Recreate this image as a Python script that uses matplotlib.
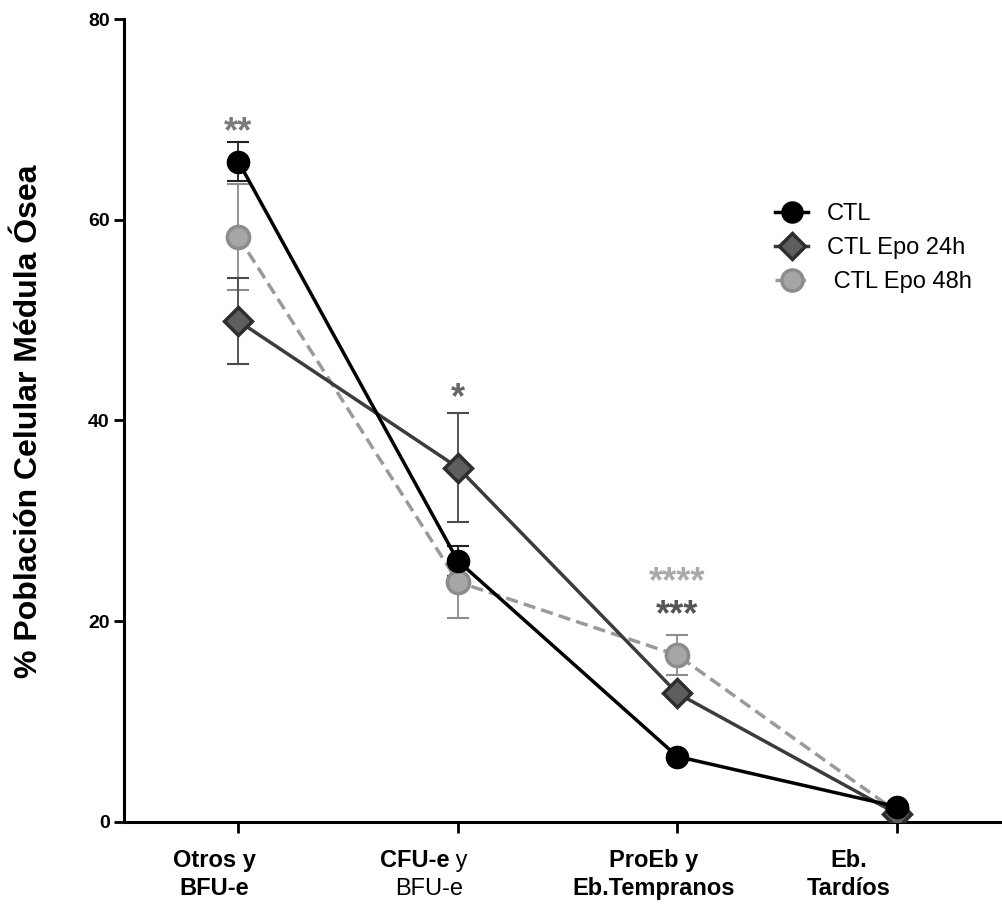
import numpy as np
import matplotlib.pyplot as plt
from matplotlib.transforms import blended_transform_factory

plt.rcParams['font.family'] = ['Liberation Sans', 'DejaVu Sans']

categorias = ['Otros y\nBFU-e', 'CFU-e y\nBFU-e', 'ProEb y\nEb.Tempranos', 'Eb.\nTardíos']
ctl = [65.8, 26.0, 6.5, 1.5]
ctl_err = [1.9, 1.5, 0.0, 0.0]
epo24 = [49.9, 35.3, 12.8, 0.8]
epo24_err = [4.3, 5.4, 0.0, 0.0]
epo48 = [58.3, 23.9, 16.6, 1.0]
epo48_err = [5.3, 3.6, 2.0, 0.0]

x = np.arange(len(categorias))

fig = plt.figure(figsize=(10.02, 9.07), dpi=100)
ax = fig.add_axes([0.124, 0.094, 0.874, 0.885])


def barras(vals, errs, color, z):
    vals = np.asarray(vals)
    errs = np.asarray(errs)
    m = errs > 0
    ax.errorbar(x[m], vals[m], yerr=errs[m], fmt='none', ecolor=color,
                elinewidth=1.3, capsize=8, capthick=1.5, zorder=z)


barras(epo48, epo48_err, '#8c8c8c', 2)
barras(epo24, epo24_err, '#4a4a4a', 2)
barras(ctl, ctl_err, '#222222', 2)

l48, = ax.plot(x, epo48, color='#9a9a9a', ls=(0, (3.5, 1.8)), lw=2.5,
               marker='o', ms=16, mfc='#a6a6a6', mec='#8c8c8c', mew=2.5,
               label=' CTL Epo 48h', zorder=3)
l24, = ax.plot(x, epo24, color='#3c3c3c', lw=2.5,
               marker='D', ms=14, mfc='#5e5e5e', mec='#2e2e2e', mew=2.5,
               label='CTL Epo 24h', zorder=4)
lctl, = ax.plot(x, ctl, color='black', lw=2.5,
                marker='o', ms=16, mfc='black', mec='black',
                label='CTL', zorder=5)

# significance marks
ax.text(0, 66.9, '**', ha='center', va='bottom', fontsize=26, color='#7a7a7a', fontweight='bold')
ax.text(1, 40.4, '*', ha='center', va='bottom', fontsize=26, color='#666666', fontweight='bold')
ax.text(2, 22.1, '****', ha='center', va='bottom', fontsize=26, color='#aaaaaa', fontweight='bold')
ax.text(2, 18.8, '***', ha='center', va='bottom', fontsize=26, color='#555555', fontweight='bold')

ax.set_xlim(-0.52, 3.47)
ax.set_ylim(0, 80)
ax.set_yticks([0, 20, 40, 60, 80])
ax.set_xticks(x)
ax.set_xticklabels([])
for lab in ax.get_yticklabels():
    lab.set_fontweight('bold')
ax.tick_params(axis='y', labelsize=14, width=2, length=7)
ax.tick_params(axis='x', width=2, length=8)

ax.spines['top'].set_visible(False)
ax.spines['right'].set_visible(False)
ax.spines['left'].set_linewidth(2.2)
ax.spines['bottom'].set_linewidth(2.2)

fig.text(29 / 1002, 0.536, '% Población Celular Médula Ósea', rotation=90,
         ha='center', va='center', fontsize=23, fontweight='bold')

# category labels with mixed weights
tr = blended_transform_factory(ax.transData, ax.transAxes)
y1, y2 = -0.056, -0.091
fs = 17
ax.text(-0.11, y1, 'Otros y', transform=tr, ha='center', va='baseline', fontsize=fs, fontweight='bold')
ax.text(-0.11, y2, 'BFU-e', transform=tr, ha='center', va='baseline', fontsize=fs, fontweight='bold')
ax.text(0.96, y1, 'CFU-e', transform=tr, ha='right', va='baseline', fontsize=fs, fontweight='bold')
ax.text(0.96, y1, ' y', transform=tr, ha='left', va='baseline', fontsize=fs)
ax.text(0.87, y2, 'BFU-e', transform=tr, ha='center', va='baseline', fontsize=fs)
ax.text(1.89, y1, 'ProEb y', transform=tr, ha='center', va='baseline', fontsize=fs, fontweight='bold')
ax.text(1.89, y2, 'Eb.Tempranos', transform=tr, ha='center', va='baseline', fontsize=fs, fontweight='bold')
ax.text(2.78, y1, 'Eb.', transform=tr, ha='center', va='baseline', fontsize=fs, fontweight='bold')
ax.text(2.78, y2, 'Tardíos', transform=tr, ha='center', va='baseline', fontsize=fs, fontweight='bold')

ax.legend([lctl, l24, l48], ['CTL', 'CTL Epo 24h', ' CTL Epo 48h'], loc='upper left',
          bbox_to_anchor=(0.719, 0.797), frameon=False, fontsize=17,
          handlelength=1.4, labelspacing=0.5, handletextpad=0.8, markerscale=0.95)

fig.savefig('out.png', dpi=100)
